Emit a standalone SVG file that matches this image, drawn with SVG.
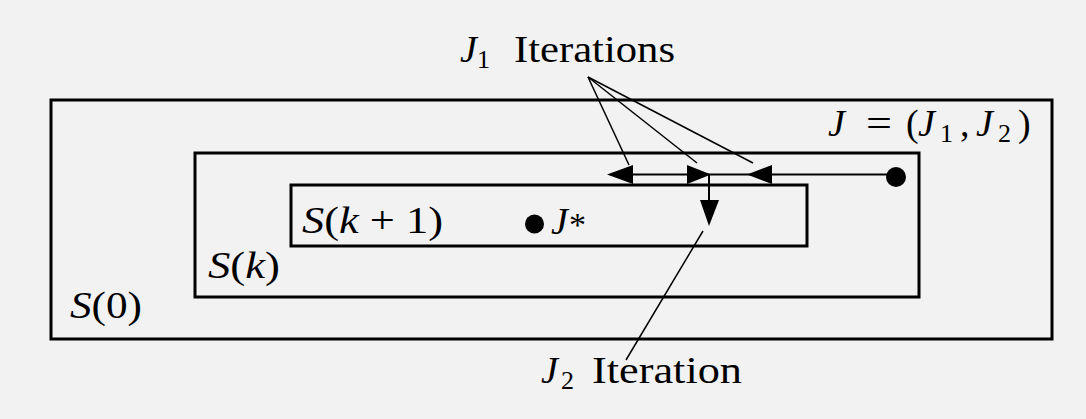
<svg xmlns="http://www.w3.org/2000/svg" width="1086" height="419" viewBox="0 0 1086 419" font-family="'Liberation Serif', 'DejaVu Serif', serif" font-size="38">
  <style>
    .box { fill: none; stroke: #000; stroke-width: 3; }
    .ln { fill: none; stroke: #000; stroke-width: 2; }
    .thin { fill: none; stroke: #000; stroke-width: 1.5; }
    .ah { fill: #000; stroke: none; }
    .it { font-style: italic; }
    .sub { font-size: 26px; }
  </style>
  <rect x="0" y="0" width="1086" height="419" fill="#f2f2f2"/>

  <g id="S0">
    <rect class="box" x="51" y="100" width="1001" height="239"/>
    <text x="70" y="318" textLength="72" lengthAdjust="spacingAndGlyphs"><tspan class="it">S</tspan>(0)</text>
  </g>

  <g id="Sk">
    <rect class="box" x="195" y="153" width="724" height="144"/>
    <text x="208" y="278" textLength="72" lengthAdjust="spacingAndGlyphs"><tspan class="it">S</tspan>(<tspan class="it">k</tspan>)</text>
  </g>

  <g id="Sk1">
    <rect class="box" x="291" y="185" width="516" height="61"/>
    <text x="302" y="233" textLength="141" lengthAdjust="spacingAndGlyphs"><tspan class="it">S</tspan>(<tspan class="it">k</tspan> + 1)</text>
  </g>

  <g id="Jstar">
    <circle cx="534.5" cy="224" r="9.5" fill="#000"/>
    <text class="it" x="551" y="234">J</text>
    <text x="569" y="236" font-size="34">*</text>
  </g>

  <g id="J">
    <circle cx="896" cy="177" r="10" fill="#000"/>
    <text class="it" x="828" y="136">J</text>
    <text x="866" y="136" textLength="26" lengthAdjust="spacingAndGlyphs">=</text>
    <text x="906" y="136">(</text>
    <text class="it" x="918" y="136">J</text>
    <text class="sub" x="940" y="142">1</text>
    <text x="960" y="136">,</text>
    <text class="it" x="976" y="136">J</text>
    <text class="sub" x="998" y="142">2</text>
    <text x="1018" y="136">)</text>
  </g>

  <g id="J1label">
    <text class="it" x="460" y="62">J</text>
    <text class="sub" x="477" y="68">1</text>
    <text x="514" y="62" textLength="161" lengthAdjust="spacingAndGlyphs">Iterations</text>
  </g>

  <g id="J2label">
    <text class="it" x="541" y="383">J</text>
    <text class="sub" x="561" y="389">2</text>
    <text x="592" y="383" textLength="150" lengthAdjust="spacingAndGlyphs">Iteration</text>
  </g>

  <g id="connectors">
    <line class="ln" x1="610" y1="174.5" x2="896" y2="174.5"/>
    <line class="ln" x1="709" y1="174.5" x2="709" y2="205"/>
    <polygon class="ah" points="607,174.5 633,165 633,184"/>
    <polygon class="ah" points="711,174.5 687,165 687,184"/>
    <polygon class="ah" points="747,174.5 772,165 772,184"/>
    <polygon class="ah" points="709,226 700,200 719,200"/>
    <line class="thin" x1="588" y1="77" x2="629" y2="165"/>
    <line class="thin" x1="588" y1="77" x2="697" y2="163"/>
    <line class="thin" x1="588" y1="77" x2="753" y2="163"/>
    <line class="thin" x1="703" y1="231" x2="626" y2="360"/>
  </g>
</svg>
